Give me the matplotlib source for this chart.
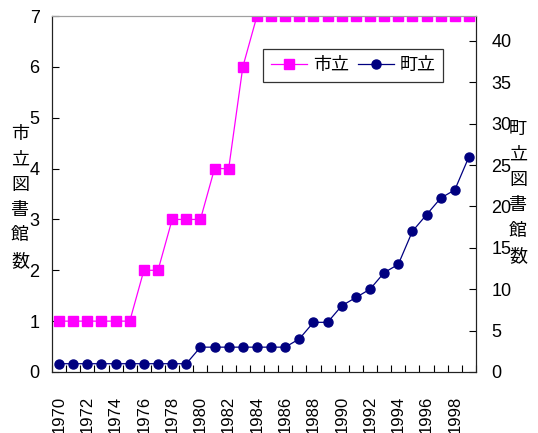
import matplotlib
matplotlib.use("Agg")
import matplotlib.pyplot as plt
import numpy as np

plt.rcParams['font.family'] = ['Liberation Sans', 'Noto Sans CJK JP', 'DejaVu Sans']

years = list(range(1970, 2000))
city = [1, 1, 1, 1, 1, 1, 2, 2, 3, 3, 3, 4, 4, 6, 7,
        7, 7, 7, 7, 7, 7, 7, 7, 7, 7, 7, 7, 7, 7, 7]
town = [1, 1, 1, 1, 1, 1, 1, 1, 1, 1, 3, 3, 3, 3, 3,
        3, 3, 4, 6, 6, 8, 9, 10, 12, 13, 17, 19, 21, 22, 26]
xlabels = [str(y) for y in years[::2]]

x = np.arange(len(years))

fig = plt.figure(figsize=(5.38, 4.33), dpi=100)
ax = fig.add_axes([0.0967, 0.1409, 0.7881, 0.8221])
ax2 = ax.twinx()

l1, = ax.plot(x, city, color="#FF00FF", lw=0.9, marker="s", ms=7.2, label="市立", zorder=3)
l2, = ax2.plot(x, town, color="#000080", lw=0.9, marker="o", ms=6.5, label="町立", zorder=2)

ax.set_xlim(-0.5, len(years) - 0.5)
ax.set_ylim(0, 7)
ax2.set_ylim(0, 43)
ax.set_yticks(range(0, 8))
ax2.set_yticks(range(0, 41, 5))

ax.set_xticks(x[::2])
ax.set_xticklabels(xlabels, rotation=90, fontsize=12)
ax.set_xticks(np.arange(-0.5, len(years)), minor=True)
ax.tick_params(axis="x", which="major", length=0, pad=17)
ax.tick_params(axis="x", which="minor", direction="in", length=5, width=0.8)
ax.tick_params(axis="y", direction="in", length=5, width=0.8, labelsize=13, pad=9)
ax2.tick_params(axis="y", direction="in", length=5, width=0.8, labelsize=13, pad=11)

for a in (ax, ax2):
    a.spines["top"].set_color("#A0A0A0")
    a.spines["left"].set_color("#222222")
    a.spines["right"].set_color("#222222")
    a.spines["bottom"].set_color("#222222")

fig.text(0.037, 0.543, "\n".join("市立図書館数"), ha="center", va="center",
         fontsize=13, linespacing=1.64)
fig.text(0.963, 0.554, "\n".join("町立図書館数"), ha="center", va="center",
         fontsize=13, linespacing=1.64)

leg = ax.legend([l1, l2], ["市立", "町立"], ncol=2, loc="upper left",
                bbox_to_anchor=(0.4976, 0.907), borderaxespad=0, fontsize=13,
                frameon=True, fancybox=False, handlelength=2.0, columnspacing=0.5,
                handletextpad=0.3, borderpad=0.45)
leg.get_frame().set_edgecolor("black")
leg.get_frame().set_linewidth(0.9)

fig.savefig("out.png", dpi=100)
